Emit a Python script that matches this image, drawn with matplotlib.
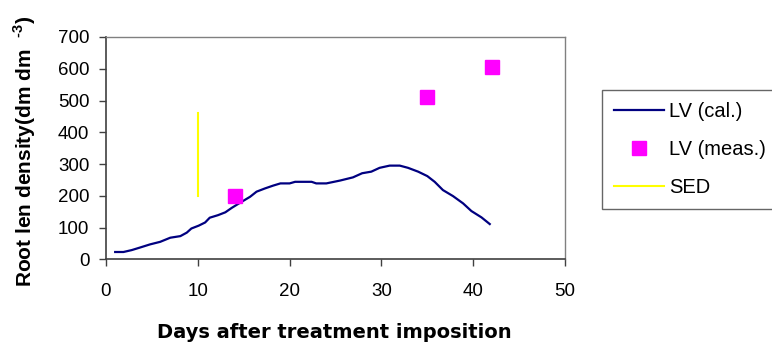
import matplotlib
matplotlib.use("Agg")
import matplotlib.pyplot as plt

plt.rcParams['font.family'] = ['Liberation Sans', 'DejaVu Sans']
plt.rcParams['mathtext.fontset'] = 'custom'
plt.rcParams['mathtext.rm'] = 'Liberation Sans:bold'
plt.rcParams['mathtext.bf'] = 'Liberation Sans:bold'

# Calculated root length density (LV cal.)
days_cal = [1.0, 1.9, 2.8, 3.7, 4.8, 5.9, 7.0, 8.1, 8.8, 9.3, 10.1, 10.8, 11.3, 12.2, 13.0,
            13.7, 14.6, 15.7, 16.4, 17.3, 18.2, 19.0, 20.0, 20.6, 22.4, 22.9, 24.0, 25.5,
            26.9, 27.9, 28.9, 29.8, 30.9, 32.0, 32.9, 34.0, 35.0, 35.8, 36.7, 37.8, 38.9,
            39.8, 40.9, 41.8]
lv_cal = [23, 23, 29, 37, 47, 55, 68, 73, 84, 97, 106, 116, 131, 139, 148,
          162, 178, 197, 213, 223, 232, 239, 239, 244, 244, 239, 239, 248,
          258, 271, 276, 288, 295, 295, 288, 276, 262, 244, 218, 199, 176,
          152, 132, 111]

# Measured
days_meas = [14, 35, 42]
lv_meas = [200, 510, 605]

# SED bar
sed_x = [10, 10]
sed_y = [200, 460]

fig = plt.figure(figsize=(7.72, 3.49), dpi=100)
ax = fig.add_axes([0.1373, 0.257, 0.5946, 0.637])

ax.plot(days_cal, lv_cal, color='#000080', lw=1.6, label='LV (cal.)')
ax.plot(days_meas, lv_meas, linestyle='none', marker='s', markersize=10,
        color='#FF00FF', markeredgecolor='#FF00FF', label='LV (meas.)')
ax.plot(sed_x, sed_y, color='#FFFF00', lw=1.5, label='SED')

ax.set_xlim(0, 50)
ax.set_ylim(0, 700)
ax.set_xticks([0, 10, 20, 30, 40, 50])
ax.set_yticks(range(0, 701, 100))
ax.tick_params(axis='both', direction='out', length=5, width=1, colors='#404040',
               labelcolor='black', labelsize=13.5)
ax.tick_params(axis='x', pad=12)
ax.tick_params(axis='y', pad=7)

for s in ['left', 'bottom']:
    ax.spines[s].set_color('#404040')
    ax.spines[s].set_linewidth(1.2)
for s in ['top', 'right']:
    ax.spines[s].set_color('#808080')
    ax.spines[s].set_linewidth(1.0)

fig.text(334/772, 1 - 333/349, 'Days after treatment imposition', fontsize=14,
         fontweight='bold', family=['DejaVu Sans'], ha='center', va='center')
fig.text(25/772, 1 - 151/349, r'Root len density(dm dm  $^{\text{-3}}$)', fontsize=15,
         fontweight='bold', rotation=90, ha='center', va='center')

leg = ax.legend(loc='upper left', bbox_to_anchor=(602/772, 1 - 90/349), bbox_transform=fig.transFigure,
                frameon=True, fancybox=False, fontsize=14.5, handlelength=2.5,
                labelspacing=0.95, borderpad=0.6, handletextpad=0.25, borderaxespad=0)
leg.get_frame().set_edgecolor('#404040')
leg.get_frame().set_linewidth(1.0)

fig.savefig('out.png', dpi=100)
